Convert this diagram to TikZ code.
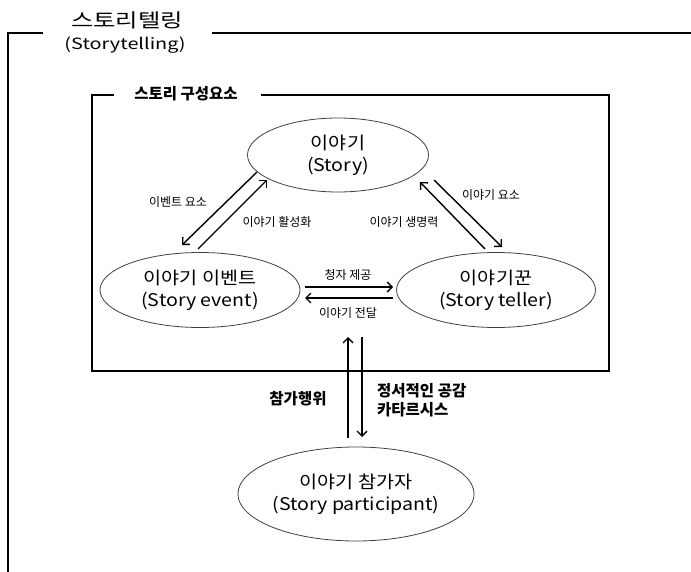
\documentclass[tikz,border=0pt]{standalone}
\usepackage{fontspec}
\setmainfont{Noto Sans CJK KR}
\newfontfamily\widefont[FakeStretch=1.12]{Noto Sans CJK KR}
\newfontfamily\titlefont[FakeStretch=1.28]{Noto Sans CJK KR}
\usetikzlibrary{shapes.geometric,arrows.meta}
\begin{document}
\begin{tikzpicture}[x=1pt,y=-1pt,
  ell/.style={draw=black!75, line width=0.8pt, ellipse, inner sep=0pt, align=center,
              font=\widefont\fontsize{17.5}{22}\selectfont},
  frame/.style={line width=1.5pt, line cap=rect},
  arr/.style={line width=1.4pt, -{Straight Barb[length=5pt,width=10pt]}},
  lbl/.style={font=\fontsize{12}{14}\selectfont, inner sep=0pt},
  blbl/.style={font=\bfseries\fontsize{15.5}{19}\selectfont, inner sep=0pt, align=left}]
\useasboundingbox (0,0) rectangle (691,572);

% outer frame
\node[font=\titlefont\fontsize{19}{22}\selectfont] (title) at (127,20) {스토리텔링};
\node[font=\titlefont\fontsize{15.5}{18}\selectfont] (titleen) at (125,45) {(Storytelling)};
\coordinate (o1) at (42,33);
\coordinate (o2) at (8,33);
\coordinate (o3) at (8,572);
\coordinate (o4) at (213,33);
\coordinate (o5) at (691,33);
\draw[frame] (o1) -- (o2) -- (o3);
\draw[frame] (o4) -- (o5);

% inner frame
\node[blbl] (inner) at (186,94) {스토리 구성요소};
\coordinate (i1) at (113,95);
\coordinate (i2) at (92,95);
\coordinate (i3) at (92,371);
\coordinate (i4) at (609,371);
\coordinate (i5) at (609,95);
\coordinate (i6) at (262,95);
\draw[frame] (i1) -- (i2) -- (i3) -- (i4) -- (i5) -- (i6);

% ellipses
\node[ell, minimum width=181, minimum height=74] (story) at (338,155) {이야기\\(Story)};
\node[ell, minimum width=200, minimum height=75] (event) at (200,290) {이야기 이벤트\\(Story event)};
\node[ell, minimum width=199, minimum height=75] (teller) at (496,290) {이야기꾼\\(Story teller)};
\node[ell, minimum width=228, minimum height=94] (part) at (356,494) {이야기 참가자\\(Story participant)};

% arrow end points
\coordinate (a1s) at (257,172); \coordinate (a1e) at (182,245);
\coordinate (a2s) at (198,249); \coordinate (a2e) at (267,180);
\coordinate (a3s) at (485,249); \coordinate (a3e) at (420,182);
\coordinate (a4s) at (434,180); \coordinate (a4e) at (502,247);
\coordinate (a5s) at (305,287); \coordinate (a5e) at (393,287);
\coordinate (a6s) at (393,298); \coordinate (a6e) at (305,298);
\coordinate (a7s) at (348,438); \coordinate (a7e) at (348,337);
\coordinate (a8s) at (362,337); \coordinate (a8e) at (362,437);

\draw[arr] (a1s) -- (a1e);
\draw[arr] (a2s) -- (a2e);
\draw[arr] (a3s) -- (a3e);
\draw[arr] (a4s) -- (a4e);
\draw[arr] (a5s) -- (a5e);
\draw[arr] (a6s) -- (a6e);
\draw[arr] (a7s) -- (a7e);
\draw[arr] (a8s) -- (a8e);

% labels
\node[lbl] (l1) at (178,202) {이벤트 요소};
\node[lbl] (l2) at (277,222) {이야기 활성화};
\node[lbl] (l3) at (491,195) {이야기 요소};
\node[lbl] (l4) at (404,222) {이야기 생명력};
\node[lbl] (l5) at (348,275) {청자 제공};
\node[lbl] (l6) at (348,313) {이야기 전달};
\node[blbl] (l7) at (298,399) {참가행위};
\node[blbl, anchor=west] (l8) at (377,400) {정서적인 공감\\카타르시스};
\end{tikzpicture}
\end{document}
